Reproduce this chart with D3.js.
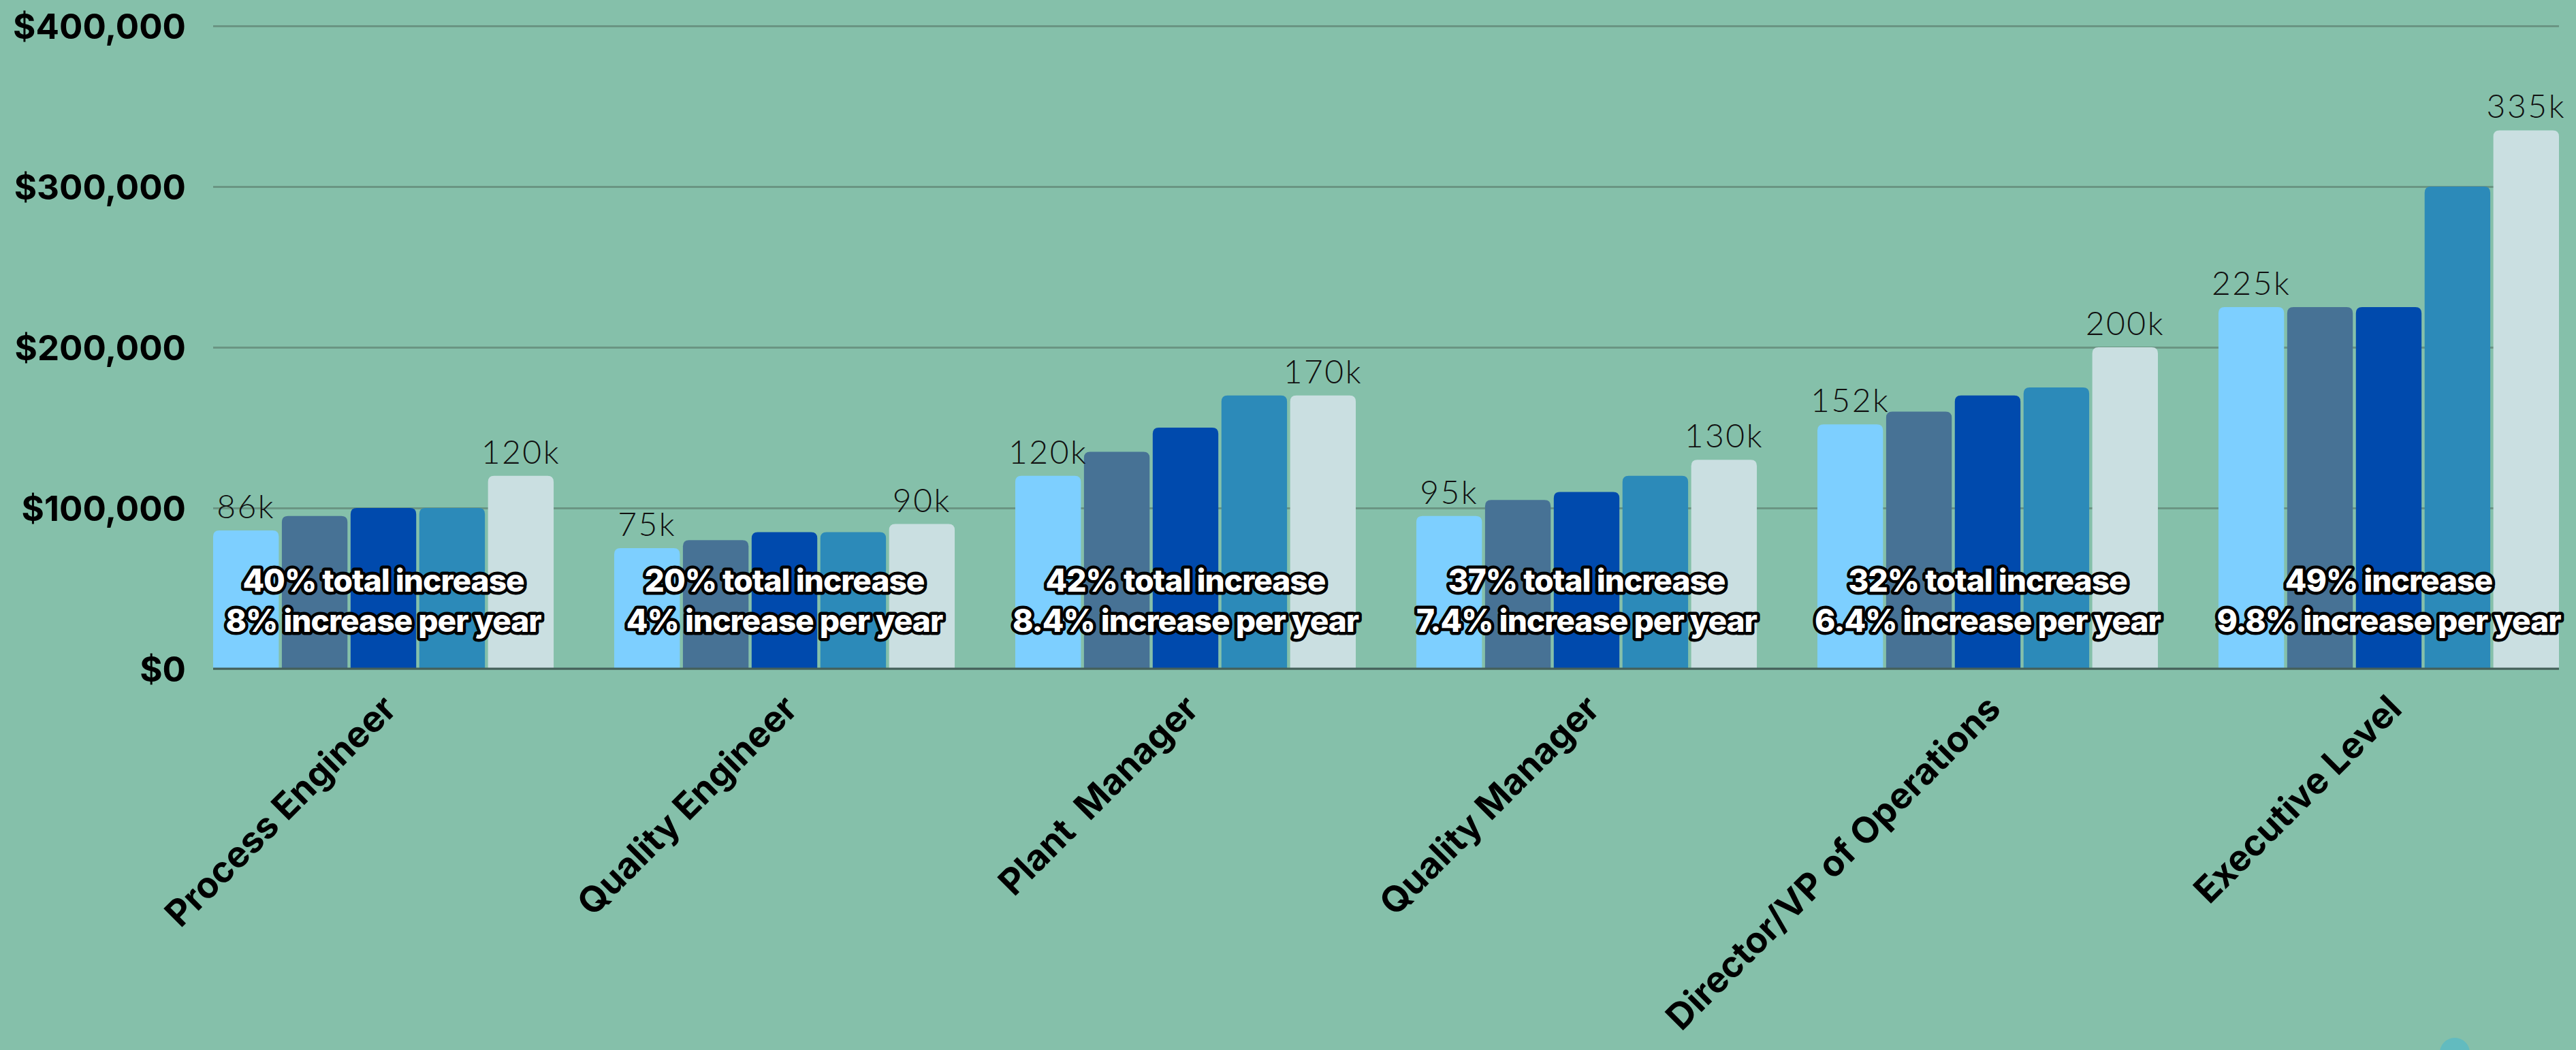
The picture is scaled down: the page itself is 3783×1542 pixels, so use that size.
<!DOCTYPE html>
<html>
<head>
<meta charset="utf-8">
<script src="https://cdn.jsdelivr.net/npm/d3@7"></script>
<style>
  html, body { margin: 0; padding: 0; background: #85C0AA; }
  svg { display: block; }
</style>
</head>
<body>
<svg id="chart" width="3783" height="1542"></svg>
<script>
// Job roles along the x axis
const categories = ["Process Engineer", "Quality Engineer", "Plant  Manager", "Quality Manager", "Director/VP of Operations", "Executive Level"];

// Five salary points per role, in thousands of dollars
const seriesKeys = ["s1", "s2", "s3", "s4", "s5"];
const s1 = [86, 75, 120, 95, 152, 225];
const s2 = [95, 80, 135, 105, 160, 225];
const s3 = [100, 85, 150, 110, 170, 225];
const s4 = [100, 85, 170, 120, 175, 300];
const s5 = [120, 90, 170, 130, 200, 335];
const seriesValues = [s1, s2, s3, s4, s5];
const seriesColors = ["#7DCFFF", "#477295", "#004AAD", "#2C8AB9", "#CADFE1"];

// Growth notes written over each group
const totalLines = ["40% total increase", "20% total increase", "42% total increase", "37% total increase", "32% total increase", "49% increase"];
const yearLines = ["8% increase per year", "4% increase per year", "8.4% increase per year", "7.4% increase per year", "6.4% increase per year", "9.8% increase per year"];

// Y axis ticks (dollars)
const yTicks = [0, 100000, 200000, 300000, 400000];

const W = 3783, H = 1542;
const plotLeft = 313, plotRight = 3758, plotTop = 38, plotBottom = 982;

const svg = d3.select("#chart");
svg.append("rect").attr("width", W).attr("height", H).attr("fill", "#85C0AA");

const y = d3.scaleLinear().domain([0, 400000]).range([plotBottom, plotTop]);
const x0 = d3.scaleBand().domain(categories).range([plotLeft, plotRight]).paddingInner(0.151).paddingOuter(0);
const x1 = d3.scaleBand().domain(seriesKeys).range([0, x0.bandwidth()]).paddingInner(0.045).paddingOuter(0);

const boldFont = "Inter, 'Open Sans', sans-serif";
const lightFont = "Lato, Inter, sans-serif";

// Gridlines and dollar labels
const yAxis = d3.axisLeft(y)
  .tickValues(yTicks)
  .tickSize(-(plotRight - plotLeft))
  .tickPadding(40)
  .tickFormat(d => "$" + d3.format(",")(d));

const gy = svg.append("g").attr("transform", `translate(${plotLeft},0)`).call(yAxis);
gy.select(".domain").remove();
gy.selectAll(".tick line").attr("stroke", "#6A9583").attr("stroke-width", 3);
gy.selectAll(".tick text")
  .attr("fill", "#000")
  .attr("font-family", boldFont)
  .attr("font-weight", 700)
  .attr("font-size", 51)
  .attr("dy", "0.36em");

// Bars with rounded top corners
function topRounded(x, yTop, w, h, r) {
  r = Math.min(r, h, w / 2);
  return `M${x},${yTop + h}V${yTop + r}Q${x},${yTop} ${x + r},${yTop}H${x + w - r}Q${x + w},${yTop} ${x + w},${yTop + r}V${yTop + h}Z`;
}

const rows = categories.map((c, i) => ({
  cat: c,
  bars: seriesKeys.map((k, j) => ({ key: k, value: seriesValues[j][i], color: seriesColors[j], idx: j }))
}));

const groups = svg.append("g").selectAll("g.grp")
  .data(rows).join("g")
  .attr("class", "grp")
  .attr("transform", d => `translate(${x0(d.cat)},0)`);

groups.selectAll("path.bar")
  .data(d => d.bars).join("path")
  .attr("class", "bar")
  .attr("fill", d => d.color)
  .attr("d", d => {
    const yt = y(d.value * 1000);
    return topRounded(x1(d.key), yt, x1.bandwidth(), plotBottom - yt, 9);
  });

// Value labels on first and last bar of each group
groups.selectAll("text.val")
  .data(d => d.bars.filter(b => b.idx === 0 || b.idx === seriesKeys.length - 1)).join("text")
  .attr("class", "val")
  .attr("x", d => x1(d.key) + x1.bandwidth() / 2)
  .attr("y", d => y(d.value * 1000) - 18)
  .attr("text-anchor", "middle")
  .attr("font-family", lightFont)
  .attr("font-weight", 300)
  .attr("font-size", 48)
  .attr("letter-spacing", 2.5)
  .attr("fill", "#111")
  .text(d => d.value + "k");

// Baseline
svg.append("line")
  .attr("x1", plotLeft).attr("x2", plotRight)
  .attr("y1", y(0)).attr("y2", y(0))
  .attr("stroke", "#44605A").attr("stroke-width", 3);

// Outlined growth notes
const notes = svg.append("g");
categories.forEach((c, i) => {
  const cx = x0(c) + x0.bandwidth() / 2;
  [[totalLines[i], 869], [yearLines[i], 928]].forEach(([t, yy]) => {
    notes.append("text")
      .attr("x", cx).attr("y", yy)
      .attr("text-anchor", "middle")
      .attr("font-family", boldFont)
      .attr("font-weight", 800)
      .attr("font-size", 46)
      .attr("letter-spacing", -1)
      .attr("fill", "#fff")
      .attr("stroke", "#000")
      .attr("stroke-width", 9)
      .attr("stroke-linejoin", "round")
      .attr("paint-order", "stroke")
      .text(t);
  });
});

// Category axis with slanted labels
const xAxis = d3.axisBottom(x0).tickSize(0).tickPadding(0);
const gx = svg.append("g").attr("transform", `translate(0,${plotBottom})`).call(xAxis);
gx.select(".domain").remove();
gx.selectAll(".tick text")
  .attr("fill", "#000")
  .attr("font-family", boldFont)
  .attr("font-weight", 700)
  .attr("font-size", 53)
  .attr("text-anchor", "end")
  .attr("dy", 0)
  .attr("y", 0)
  .attr("style", "white-space: pre")
  .attr("transform", "translate(22,62) rotate(-45)");

// Small corner dot
svg.append("circle").attr("cx", 3605).attr("cy", 1546).attr("r", 22).attr("fill", "#62BBBF");
</script>
</body>
</html>
